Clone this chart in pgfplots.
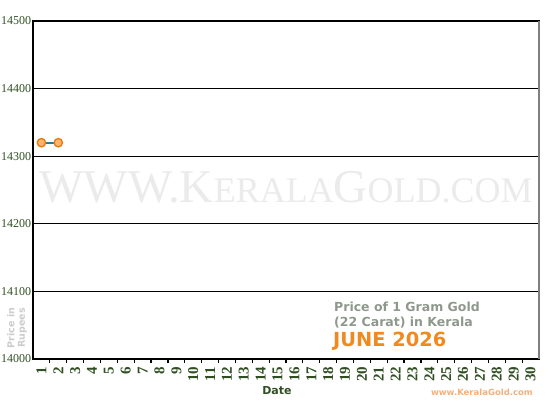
\documentclass[border=0pt]{standalone}
\usepackage{fontspec}
\setmainfont{Liberation Serif}
\newfontfamily\vfont{DejaVu Sans}
\usepackage{pgfplots}
\pgfplotsset{compat=1.18}
\definecolor{tickgreen}{HTML}{2F4F22}
\definecolor{wmgray}{HTML}{EBEBEB}
\definecolor{capgray}{HTML}{8E988C}
\definecolor{junegold}{HTML}{F08A1E}
\definecolor{urlorange}{HTML}{F5B07A}
\definecolor{ringorange}{HTML}{E8780E}
\definecolor{fillorange}{HTML}{FFB468}
\definecolor{linkblue}{HTML}{1F7DA6}

\pgfplotstableread{
day price
1 14320
2 14320
}\goldprices

\begin{document}
\begin{tikzpicture}
\begin{axis}[
  at={(0pt,0pt)}, anchor=origin,
  scale only axis, width=506pt, height=338pt,
  xmin=0.5, xmax=30.5, ymin=14000, ymax=14500,
  xtick={1,...,30}, major x tick style={draw=none},
  minor xtick={1.5,2.5,...,29.5},
  minor tick length=4pt, tick align=outside, xtick pos=lower,
  minor x tick style={black, line width=1.2pt},
  ytick={14000,14100,...,14500}, ytick pos=left,
  scaled y ticks=false,
  major y tick style={draw=none},
  ymajorgrids, grid style={black, line width=1.2pt},
  axis line style={black, line width=1.2pt},
  /pgf/number format/assume math mode=true,
  /pgf/number format/1000 sep={},
  yticklabel style={font=\fontsize{12}{13}\selectfont, text=tickgreen, inner sep=0pt, xshift=2.5pt},
  xticklabel style={font=\fontsize{15}{15}\selectfont\bfseries, text=tickgreen, rotate=90, anchor=east, inner sep=0pt, xshift=-3.5pt},
  clip=false,
]
\node[text=wmgray, font=\fontsize{47}{47}\selectfont] at (axis cs:15.5,14254)
  {WWW.K{\fontsize{36}{36}\selectfont ERALA}G{\fontsize{36}{36}\selectfont OLD.COM}};
\addplot[linkblue, line width=2pt, mark=*, mark size=4.2pt,
  mark options={draw=ringorange, fill=fillorange, line width=1.3pt}]
  table[x=day, y=price] {\goldprices};
\draw[gray, line width=1.2pt] (rel axis cs:1,0) -- (rel axis cs:1,1);
\end{axis}
\node[rotate=90, text=black!20, font=\vfont\bfseries\fontsize{9.5}{10.5}\selectfont, align=center] at (-16pt,31pt) {Price in\\Rupees};
\node[anchor=west, inner sep=0pt, text=capgray, font=\vfont\bfseries\fontsize{12.5}{13}\selectfont] at (301pt,52pt) {Price of 1 Gram Gold};
\node[anchor=west, inner sep=0pt, text=capgray, font=\vfont\bfseries\fontsize{12.5}{13}\selectfont] at (301pt,36pt) {(22 Carat) in Kerala};
\node[anchor=west, inner sep=0pt, text=junegold, font=\vfont\bfseries\fontsize{19.4}{20}\selectfont] at (300pt,18pt) {JUNE 2026};
\node[anchor=east, inner sep=0pt, text=urlorange, font=\vfont\bfseries\fontsize{8.5}{9}\selectfont] at (500pt,-33pt) {www.KeralaGold.com};
\node[text=tickgreen, font=\vfont\bfseries\fontsize{11}{12}\selectfont] at (244pt,-32pt) {Date};
\pgfresetboundingbox
\path (-33pt,-41pt) rectangle (517pt,359pt);
\end{tikzpicture}
\end{document}
